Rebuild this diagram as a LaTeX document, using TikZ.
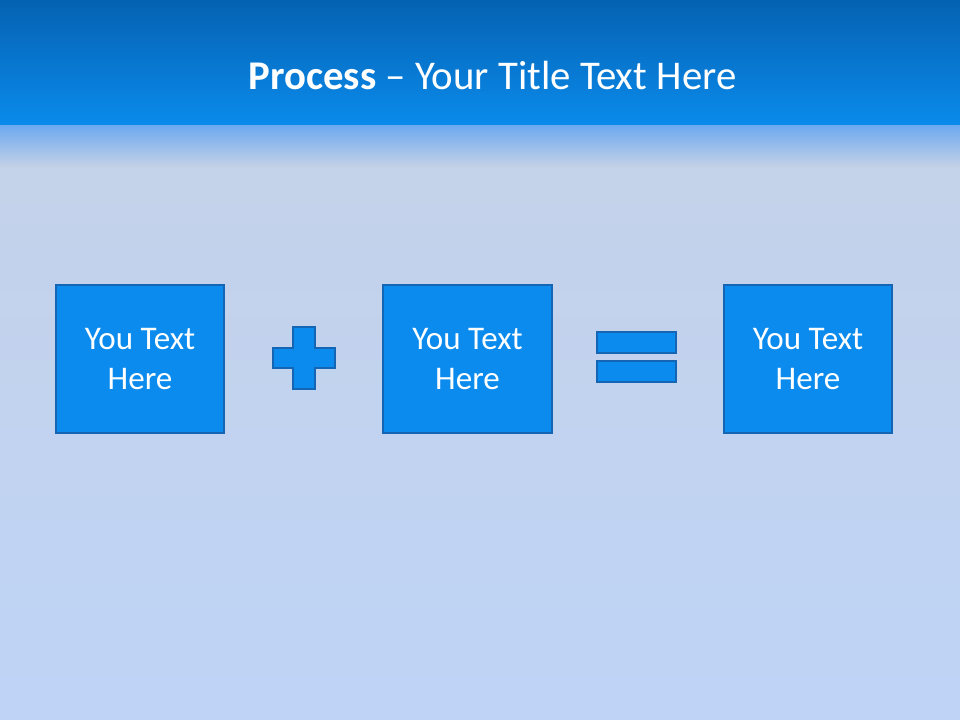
\documentclass[tikz,border=0pt]{standalone}
\usepackage{fontspec}
\setmainfont{Carlito}
\usepackage{tikz}
\usetikzlibrary{positioning,calc}
\usepackage{xcolor}

\definecolor{headtop}{HTML}{0562B2}
\definecolor{headbot}{HTML}{0A8BEC}
\definecolor{glow}{HTML}{6FAAF0}
\definecolor{bgtop}{HTML}{C6D2E6}
\definecolor{bgbot}{HTML}{BED3F6}
\definecolor{boxfill}{HTML}{0B8BEE}
\definecolor{boxline}{HTML}{1466B4}

\begin{document}
\begin{tikzpicture}[x=0.025cm,y=-0.025cm,
    txtbox/.style={rectangle,draw=boxline,fill=boxfill,line width=1.4pt,
        minimum width=4.2cm,minimum height=3.72cm,text=white,align=center,
        font=\fontsize{23.5}{28}\selectfont},
    opbar/.style={rectangle,draw=boxline,fill=boxfill,line width=1.4pt,
        minimum width=1.97cm,minimum height=0.52cm,inner sep=0pt}]
\useasboundingbox (0,0) rectangle (960,720);
% background
\fill[top color=bgtop,bottom color=bgbot] (0,0) rectangle (960,720);
\fill[top color=headtop,bottom color=headbot] (0,0) rectangle (960,126);
\fill[top color=glow,bottom color=bgtop] (0,126) rectangle (960,168);
\node (title) at (492.5,75) [text=white,font=\fontsize{29}{34}\selectfont]
    {\textbf{Process} – Your Title Text Here};
% boxes
\node (left)  at (140,359) [txtbox] {You Text\\Here};
\node (mid)   at (467.5,359) [txtbox] {You Text\\Here};
\node (right) at (808,359) [txtbox] {You Text\\Here};
% plus
\draw[boxline,fill=boxfill,line width=1.4pt]
    (293,327) -- (315,327) -- (315,348) -- (335,348) -- (335,368) -- (315,368)
    -- (315,389) -- (293,389) -- (293,368) -- (273,368) -- (273,348) -- (293,348) -- cycle;
% equals
\node (eqtop) at (636.5,342.5) [opbar] {};
\node (eqbot) at (636.5,371.5) [opbar] {};
\end{tikzpicture}
\end{document}
